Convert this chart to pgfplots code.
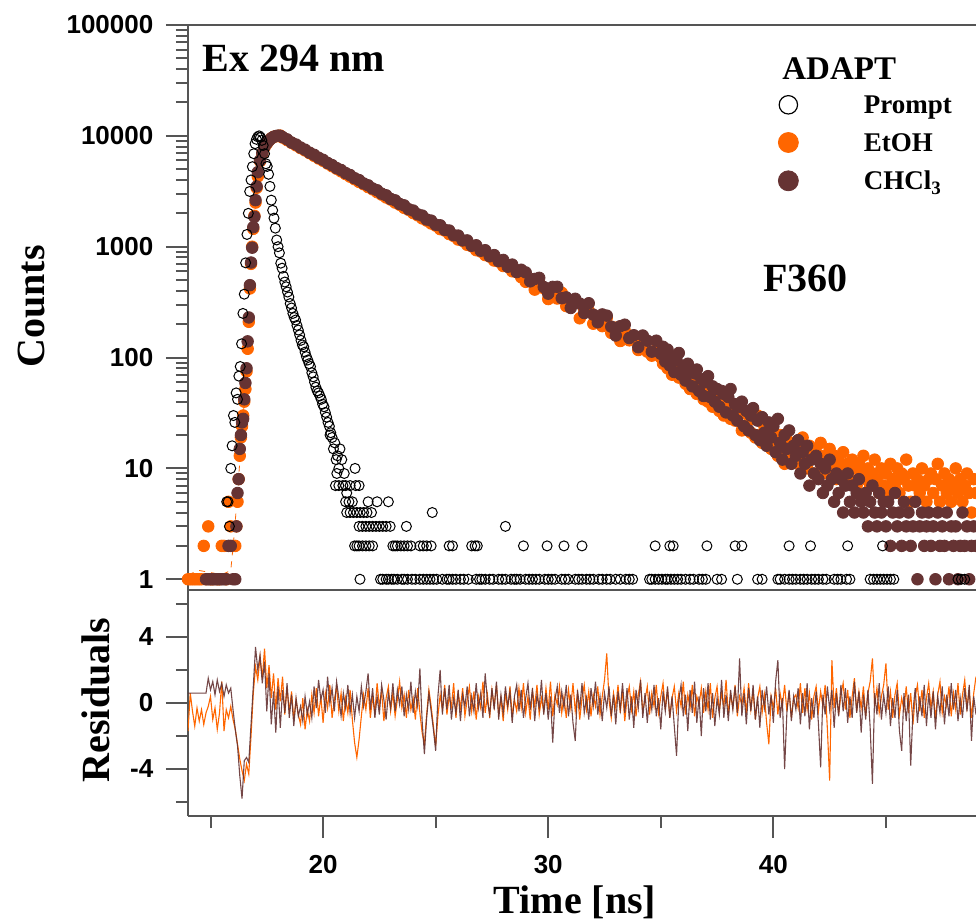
\documentclass[border=0pt]{standalone}
\usepackage{pgfplots}
\pgfplotsset{compat=1.18}
\usepackage{pgfplotstable}
\usepackage{fontspec}
\setmainfont{Liberation Serif}
\newfontfamily\arialf{Liberation Sans}
\definecolor{eorange}{RGB}{255,102,0}
\definecolor{cbrown}{RGB}{102,51,51}
\definecolor{axgray}{RGB}{85,85,85}
\pgfplotsset{every non boxed y axis/.append style={y axis line style=-},
  every non boxed x axis/.append style={x axis line style=-},
  filter discard warning=false}

\pgfplotstableread{
x e c
14.0 1 nan
14.1 1 nan
14.2 1 nan
14.3 1 nan
14.4 1 nan
14.5 1 nan
14.6 1 nan
14.7 2 nan
14.8 1 1
14.9 3 1
15.0 1 1
15.1 1 1
15.2 nan 1
15.3 1 1
15.4 1 1
15.5 2 1
15.6 2 1
15.7 1 1
15.8 5 2
15.9 3 2
16.0 2 1
16.1 2 1
16.15 3 3
16.20 5 6
16.25 8 8
16.30 13 15
16.35 19 20
16.40 24 26
16.45 30 28
16.50 40 42
16.55 52 59
16.60 75 80
16.65 120 140
16.70 210 230
16.75 420 450
16.80 700 720
16.85 1000 980
16.90 1450 1500
16.95 1900 1860
17.00 2500 2630
17.05 3400 3500
17.10 4300 4700
17.2 5900 6000
17.3 6900 7000
17.4 7900 8000
17.5 8500 8600
17.6 9100 9100
17.7 9500 9500
17.8 9800 9800
17.9 9900 9950
18.0 10000 10050
18.1 10050 10000
18.2 9650 9750
18.4 9150 9300
18.6 8650 8700
18.8 8200 8350
19.0 7750 7850
19.2 7380 7500
19.4 6980 7050
19.6 6600 6750
19.8 6250 6350
20.0 5950 6080
20.2 5620 5700
20.4 5320 5450
20.6 5050 5120
20.8 4780 4920
21.0 4520 4620
21.2 4280 4430
21.4 4060 4150
21.6 3840 3990
21.8 3660 3720
22.0 3450 3580
22.2 3290 3350
22.4 3100 3230
22.6 2950 3010
22.8 2780 2910
23.0 2660 2700
23.2 2500 2620
23.4 2390 2430
23.6 2240 2360
23.8 2150 2180
24.0 2010 2120
24.2 1920 1960
24.4 1800 1910
24.6 1720 1760
24.8 1620 1720
25.0 1550 1580
25.2 1440 1560
25.4 1400 1420
25.6 1300 1400
25.8 1250 1270
26.0 1160 1260
26.2 1130 1140
26.4 1040 1140
26.6 1010 1020
26.8 930 1030
27.0 905 920
27.2 840 930
27.4 815 820
27.6 750 840
27.8 735 740
28.0 670 760
28.2 660 660
28.4 600 690
28.6 590 590
28.8 530 620
29.0 482 586
29.2 505 487
29.4 410 512
29.6 472 524
29.8 422 433
30.0 337 377
30.2 409 434
30.4 341 435
30.6 384 343
30.8 291 349
31.0 298 280
31.2 318 339
31.4 226 307
31.6 268 252
31.8 264 309
32.0 202 244
32.2 224 208
32.4 192 245
32.6 228 239
32.8 167 190
33.0 186 158
33.2 141 192
33.4 174 198
33.6 143 150
33.8 152 159
34.0 117 124
34.2 145 158
34.4 113 142
34.6 104 113
34.8 118 142
35.0 100 108
35.1 88 125
35.2 110 92
35.3 80 118
35.4 97 85
35.5 70 102
35.6 92 74
35.7 84 95
35.8 66 110
35.9 80 70
36.0 76 84
36.1 58 62
36.2 74 88
36.3 52 75
36.4 70 55
36.5 64 72
36.6 47 78
36.7 62 50
36.8 58 64
36.9 42 45
37.0 55 60
37.1 40 68
37.2 52 44
37.3 36 55
37.4 48 40
37.5 44 52
37.6 33 36
37.7 42 50
37.8 30 47
37.9 40 32
38.0 37 44
38.1 28 52
38.2 38 30
38.3 27 38
38.4 35 27
38.5 31 36
38.6 22 40
38.7 33 24
38.8 24 33
38.9 30 22
39.0 21 30
39.1 28 35
39.2 19 20
39.3 30 27
39.4 20 18
39.5 17 29
39.6 24 21
39.7 18 16
39.8 23 26
39.9 15 19
40.0 21 24
40.1 16 14
40.2 13 28
40.3 20 17
40.4 15 12
40.5 11 20
40.6 18 15
40.7 14 22
40.8 17 11
40.9 12 16
41.0 16 13
41.1 11 18
41.2 15 9
41.3 19 14
41.4 12 11
41.5 10 16
41.6 16 7
41.7 13 12
41.8 9 9
41.9 14 13
42.0 12 8
42.1 17 11
42.2 10 6
42.3 13 10
42.4 9 7
42.5 15 12
42.6 11 8
42.7 13 5
42.8 8 9
42.9 12 6
43.0 10 8
43.1 14 4
43.2 9 7
43.3 11 9
43.4 8 5
43.5 12 7
43.6 10 4
43.7 7 6
43.8 11 8
43.9 9 5
44.0 13 4
44.1 8 6
44.2 10 3
44.3 7 5
44.4 9 7
44.5 12 4
44.6 8 3
44.7 6 6
44.8 10 4
44.9 7 5
45.0 9 3
45.1 6 5
45.2 11 2
45.3 8 4
45.4 7 6
45.5 10 3
45.6 6 4
45.7 9 2
45.8 8 5
45.9 12 3
46.0 7 4
46.1 5 2
46.2 9 3
46.3 7 5
46.4 8 1
46.5 6 3
46.6 10 4
46.7 7 2
46.8 5 3
46.9 8 4
47.0 9 2
47.1 6 3
47.2 8 1
47.3 11 4
47.4 5 2
47.5 7 3
47.6 9 2
47.7 6 4
47.8 8 1
47.9 5 3
48.0 7 2
48.1 10 3
48.2 6 1
48.3 8 2
48.4 5 4
48.5 7 2
48.6 9 3
48.7 6 1
48.8 4 2
48.9 8 3
49.0 6 2
}\decay

\pgfplotstableread{
x y
15.72 5
15.78 5
15.84 3
15.90 10
15.96 16
16.02 30
16.08 26
16.14 48
16.20 42
16.26 68
16.32 83
16.38 133
16.44 250
16.50 373
16.56 715
16.62 1290
16.68 2000
16.74 3150
16.80 4000
16.86 5270
16.92 6900
16.98 8500
17.04 9300
17.10 9800
17.16 10000
17.22 9700
17.28 9100
17.34 8200
17.40 6900
17.46 5600
17.52 5300
17.58 4500
17.64 3500
17.70 2630
17.76 2130
17.82 1810
17.88 1470
17.94 1150
18.00 1000
18.06 880
18.12 710
18.18 640
18.24 540
18.30 480
18.36 435
18.42 390
18.48 352
18.54 307
18.60 280
18.66 250
18.72 230
18.78 218
18.84 195
18.90 177
18.96 160
19.02 143
19.08 130
19.14 125
19.20 112
19.26 102
19.32 95
19.38 88
19.44 83
19.50 73
19.56 67
19.62 60
19.68 54
19.74 50
19.80 48
19.86 45
19.92 42
19.98 38
20.04 36
20.10 32
20.16 29
20.22 26
20.28 24
20.31 20
20.34 21
20.40 19
20.46 15
20.52 17
20.58 12
20.61 9
20.64 13
20.70 10
20.75 15
20.83 12
20.88 7
20.94 9
21.42 10
20.55 7
20.70 7
21.00 7
21.20 7
21.45 7
21.60 7
21.05 6
21.00 5
21.15 5
21.30 5
22.00 5
22.40 5
22.90 5
21.05 4
21.20 4
21.35 4
21.50 4
21.65 4
21.80 4
21.95 4
22.15 4
24.85 4
21.60 3
21.75 3
21.90 3
22.05 3
22.20 3
22.35 3
22.50 3
22.65 3
22.80 3
22.98 3
23.70 3
28.10 3
21.40 2
21.50 2
21.60 2
21.75 2
21.90 2
22.05 2
22.20 2
23.10 2
23.20 2
23.30 2
23.45 2
23.60 2
23.75 2
23.90 2
24.30 2
24.45 2
24.60 2
24.80 2
25.60 2
25.75 2
26.60 2
26.75 2
26.85 2
28.90 2
29.95 2
30.70 2
31.50 2
34.75 2
35.40 2
35.55 2
37.05 2
38.30 2
38.60 2
40.70 2
41.65 2
43.30 2
44.85 2
21.64 1
22.55 1
22.65 1
22.80 1
22.90 1
23.05 1
23.15 1
23.30 1
23.50 1
23.60 1
23.75 1
23.95 1
24.10 1
24.30 1
24.45 1
24.60 1
24.75 1
24.90 1
25.05 1
25.30 1
25.50 1
25.60 1
25.75 1
25.90 1
26.10 1
26.25 1
26.45 1
26.80 1
26.95 1
27.05 1
27.20 1
27.40 1
27.55 1
27.80 1
27.95 1
28.10 1
28.35 1
28.50 1
28.60 1
28.75 1
29.00 1
29.15 1
29.30 1
29.45 1
29.60 1
29.85 1
30.00 1
30.15 1
30.30 1
30.60 1
30.75 1
30.90 1
31.20 1
31.35 1
31.50 1
31.70 1
31.85 1
32.00 1
32.25 1
32.40 1
32.60 1
32.75 1
33.00 1
33.20 1
33.45 1
33.60 1
33.75 1
34.50 1
34.60 1
34.75 1
34.90 1
35.05 1
35.20 1
35.30 1
35.45 1
35.60 1
35.75 1
35.90 1
36.10 1
36.30 1
36.45 1
36.70 1
36.85 1
37.00 1
37.50 1
37.70 1
38.40 1
39.30 1
39.50 1
40.20 1
40.30 1
40.50 1
40.70 1
40.85 1
41.00 1
41.20 1
41.35 1
41.50 1
41.70 1
41.85 1
42.00 1
42.20 1
42.35 1
42.70 1
42.85 1
43.00 1
43.25 1
43.40 1
44.30 1
44.45 1
44.60 1
44.75 1
44.90 1
45.05 1
45.20 1
45.35 1
48.20 1
48.35 1
48.50 1
}\prompt

\pgfplotstableread{
x e c
14.0 -1.7 0.6
14.1 0.6 0.6
14.2 -0.5 0.6
14.3 -1.4 0.6
14.4 -0.3 0.6
14.5 -1.1 0.6
14.6 -0.4 0.6
14.7 -1.3 0.6
14.8 -0.6 0.6
14.9 -0.2 1.5
15.0 0.4 0.8
15.1 -1.0 1.3
15.2 -0.3 0.5
15.3 -1.6 1.4
15.4 -0.6 0.7
15.5 1.3 1.2
15.6 -1.7 0.4
15.7 -0.4 1.1
15.8 -0.9 0.6
15.9 -0.2 0.9
16.0 -1.0 -0.4
16.1 -1.6 -1.6
16.2 -2.5 -2.6
16.3 -3.4 -4.4
16.4 -4.1 -5.8
16.5 -4.7 -3.5
16.6 -3.7 -3.3
16.7 -4.3 -3.6
16.8 -2.0 -1.3
16.9 0.6 1.0
17.0 2.2 3.4
17.1 1.4 2.0
17.2 2.8 2.9
17.3 1.5 1.2
17.4 3.3 2.5
17.5 0.9 -0.5
17.6 2.3 1.8
17.7 0.3 -1.3
17.8 1.8 0.7
17.9 -0.4 -1.8
18.0 1.5 1.0
18.1 0.1 -1.5
18.2 1.6 0.8
18.3 -0.7 -0.6
18.4 0.9 1.2
18.5 -0.5 -0.9
18.6 0.7 0.5
18.7 -1.0 -1.4
18.8 0.2 0.3
18.9 -0.7 -0.8
19.0 -1.3 -0.2
19.1 0.3 -1.1
19.2 -1.6 0.4
19.3 -0.4 -0.7
19.4 -1.1 0.1
19.5 0.5 -0.9
19.6 -0.6 1.0
19.7 0.9 -0.3
19.8 -0.8 1.4
19.9 0.4 0.2
20.0 -1.2 0.8
20.1 0.6 -0.6
20.2 -0.3 1.6
20.3 1.1 0.0
20.4 -0.9 0.9
20.5 0.2 -0.5
20.6 1.0 1.3
20.7 -0.5 0.3
20.8 0.6 -0.8
20.9 -1.1 0.6
21.0 0.3 -0.3
21.1 -0.6 1.1
21.2 0.8 -0.6
21.3 -1.0 0.5
21.4 -2.4 -0.9
21.5 -3.3 0.4
21.6 -2.2 -0.5
21.7 -0.8 1.0
21.8 0.5 -0.2
21.9 -0.4 0.7
22.0 0.9 1.8
22.1 -0.9 -0.4
22.2 0.4 0.9
22.3 -0.6 -0.9
22.4 1.2 0.4
22.5 -0.2 -0.7
22.6 0.7 1.1
22.7 -1.1 0.2
22.8 0.3 -1.0
22.9 1.0 0.6
23.0 -0.5 -0.3
23.1 0.6 1.2
23.2 -0.8 -0.5
23.3 0.2 0.8
23.4 1.3 -0.1
23.5 -0.3 1.0
23.6 0.5 -0.8
23.7 -0.9 0.5
23.8 0.8 -0.4
23.9 -0.4 1.3
24.0 0.3 -0.6
24.1 -1.0 0.7
24.2 0.9 -0.2
24.3 -0.6 2.1
24.4 -1.8 -1.1
24.5 -2.5 -3.1
24.6 -0.7 -0.9
24.7 0.8 0.6
24.8 -0.2 -0.5
24.9 -1.4 -1.6
25.0 -2.6 -2.9
25.1 -0.8 0.4
25.2 0.5 2.0
25.3 -0.4 -0.7
25.4 1.1 0.9
25.5 -0.7 -0.4
25.6 0.4 1.1
25.7 -0.2 -1.0
25.8 1.2 0.3
25.9 -0.9 -0.6
26.0 0.6 0.8
26.1 -0.3 -1.1
26.2 0.9 0.5
26.3 -0.8 -0.2
26.4 0.2 1.0
26.5 1.0 -0.8
26.6 -0.5 0.4
26.7 0.7 -0.5
26.8 -1.0 1.2
26.9 0.4 -0.3
27.0 -0.3 0.6
27.1 1.3 -0.9
27.2 -0.6 1.8
27.3 0.5 0.1
27.4 -0.9 -0.7
27.5 0.8 0.9
27.6 -0.2 -0.4
27.7 1.1 1.3
27.8 -0.7 -1.0
27.9 0.3 0.5
28.0 -1.1 -0.6
28.1 0.6 1.0
28.2 -0.4 -0.2
28.3 1.0 0.7
28.4 -0.8 -1.2
28.5 0.2 0.4
28.6 -0.5 1.1
28.7 0.9 -0.5
28.8 -0.3 0.8
28.9 1.2 -0.9
29.0 -0.6 0.3
29.1 0.4 1.2
29.2 -1.0 -0.4
29.3 0.7 0.9
29.4 -0.2 -1.1
29.5 1.1 0.5
29.6 -0.7 -0.3
29.7 0.3 1.4
29.8 -0.5 -0.7
29.9 0.9 0.6
30.0 -0.4 -1.0
30.1 1.3 0.4
30.2 -0.8 -2.4
30.3 0.5 0.2
30.4 -0.1 1.0
30.5 1.0 -0.6
30.6 -0.6 0.7
30.7 0.4 -0.3
30.8 -0.9 1.1
30.9 0.8 -0.8
31.0 -0.3 0.5
31.1 1.2 -1.2
31.2 -0.5 -2.3
31.3 0.6 0.8
31.4 -1.0 -0.4
31.5 0.3 1.2
31.6 1.1 -0.6
31.7 -0.4 0.3
31.8 0.7 -1.0
31.9 -0.8 0.9
32.0 0.5 -0.2
32.1 -0.2 1.3
32.2 1.0 -0.7
32.3 -0.7 0.4
32.4 0.4 -1.1
32.5 1.4 0.6
32.6 3.0 -0.3
32.7 0.2 1.0
32.8 -0.9 -0.8
32.9 0.6 0.5
33.0 -0.3 -1.3
33.1 1.1 0.7
33.2 -0.6 -0.4
33.3 0.8 1.2
33.4 -1.1 -0.6
33.5 0.3 0.9
33.6 1.0 -1.0
33.7 -0.4 0.4
33.8 0.7 -1.5
33.9 -0.8 0.8
34.0 0.5 -0.3
34.1 1.3 1.4
34.2 -0.5 -0.9
34.3 0.2 0.6
34.4 1.0 -1.2
34.5 -0.7 0.5
34.6 0.6 -0.4
34.7 -0.2 1.1
34.8 1.1 -0.8
34.9 -0.6 0.3
35.0 0.4 -1.6
35.1 1.2 0.7
35.2 -0.4 -0.5
35.3 0.8 1.0
35.4 -0.9 -0.9
35.5 0.3 0.4
35.6 1.0 -1.4
35.7 -0.5 -3.2
35.8 0.6 0.2
35.9 -0.2 1.1
36.0 1.3 -0.8
36.1 -0.7 0.5
36.2 0.5 -1.7
36.3 -0.3 0.8
36.4 1.1 -0.6
36.5 -0.8 1.3
36.6 0.4 -1.2
36.7 -0.1 0.4
36.8 0.9 -2.0
36.9 -0.6 0.9
37.0 0.7 -0.5
37.1 -0.4 1.2
37.2 1.2 -1.0
37.3 -0.9 0.6
37.4 0.3 -1.4
37.5 1.0 0.3
37.6 -0.5 -0.7
37.7 0.6 1.4
37.8 -0.2 -0.9
37.9 1.4 0.5
38.0 -0.7 -1.1
38.1 0.5 0.8
38.2 -0.3 -0.4
38.3 1.1 1.0
38.4 -0.8 -0.6
38.5 0.4 2.7
38.6 -0.1 -0.8
38.7 0.9 0.6
38.8 -0.6 -1.3
38.9 1.2 0.9
39.0 -0.4 -0.5
39.1 0.7 1.1
39.2 -1.0 -1.0
39.3 0.3 0.4
39.4 1.0 -1.5
39.5 -0.6 0.8
39.6 0.5 -0.3
39.7 -1.2 1.0
39.8 -2.5 -0.7
39.9 0.4 0.5
40.0 -0.3 -1.2
40.1 0.9 1.3
40.2 -0.7 2.6
40.3 0.6 -0.9
40.4 -0.2 0.3
40.5 1.1 -4.0
40.6 -0.5 -0.6
40.7 0.7 0.8
40.8 -0.9 -1.1
40.9 0.3 0.4
41.0 0.5 -0.4
41.1 -0.3 0.9
41.2 1.2 -1.3
41.3 -0.6 0.6
41.4 0.9 -0.8
41.5 -0.4 1.2
41.6 0.6 -1.6
41.7 -1.0 0.3
41.8 0.4 -0.9
41.9 1.0 0.7
42.0 -0.5 -1.2
42.1 0.7 -3.9
42.2 -0.2 0.5
42.3 1.1 -0.7
42.4 -1.6 1.0
42.5 -4.7 -0.4
42.6 2.6 0.8
42.7 -0.3 -1.5
42.8 0.9 0.6
42.9 -0.7 -0.8
43.0 0.5 1.1
43.1 1.2 -0.5
43.2 -0.4 0.9
43.3 0.8 -1.2
43.4 -0.9 0.4
43.5 0.4 -0.9
43.6 1.5 1.3
43.7 -0.5 -0.6
43.8 0.7 0.7
43.9 -0.3 -1.8
44.0 1.0 0.5
44.1 -0.8 -1.0
44.2 0.6 0.8
44.3 1.3 -1.5
44.4 2.7 -4.9
44.5 -0.2 0.6
44.6 0.9 -0.7
44.7 -0.6 1.2
44.8 0.4 -1.0
44.9 1.1 0.5
45.0 2.4 -0.6
45.1 -0.4 1.0
45.2 0.7 -1.4
45.3 -0.9 0.3
45.4 0.5 -0.9
45.5 1.2 0.8
45.6 -0.7 -1.7
45.7 0.3 -2.9
45.8 -0.4 0.6
45.9 1.0 -1.1
46.0 -0.6 0.5
46.1 0.6 -3.8
46.2 -1.3 -0.5
46.3 0.4 0.9
46.4 1.1 -1.2
46.5 -0.5 0.4
46.6 0.8 -0.8
46.7 -0.9 1.1
46.8 0.3 -1.4
46.9 1.2 0.6
47.0 -0.3 -0.9
47.1 0.7 0.7
47.2 -1.0 -1.6
47.3 0.5 0.4
47.4 1.3 -0.6
47.5 -0.6 1.0
47.6 0.4 -1.3
47.7 -0.2 0.5
47.8 1.0 -0.8
47.9 -0.8 1.2
48.0 0.6 -0.4
48.1 -0.4 0.8
48.2 1.2 -1.1
48.3 -0.7 0.3
48.4 0.5 -0.9
48.5 1.4 0.9
48.6 -0.3 -0.5
48.7 0.8 1.1
48.8 -0.9 -2.3
48.9 0.6 0.4
49.0 1.6 -0.7
}\resid

\begin{document}
\begin{tikzpicture}
\useasboundingbox (-94pt,-53.5pt) rectangle (394pt,408pt);
\pgfplotsset{myax/.style={scale only axis, width=394pt, xmin=14, xmax=49,
  axis x line=box, axis y line=left,
  axis line style={axgray, line width=1pt, -},
  tick align=outside, major tick length=11pt, minor tick length=6pt,
  every tick/.style={axgray, line width=1pt},
  tick label style={font=\arialf\bfseries\fontsize{13}{15}\selectfont},
  yticklabel style={xshift=-2.8pt},
  xticklabel style={yshift=-5pt},
  /pgf/number format/assume math mode=true,
  ytick pos=left, yticklabel pos=left}}
% residuals
\begin{axis}[myax, height=113pt, ymin=-6.85, ymax=6.85,
  ytick={-4,0,4}, yticklabels={-4,0,4}, minor ytick={-6,-2,2,6},
  xtick={20,30,40}, xticklabels={20,30,40}, minor xtick={15,25,35,45},
  xtick pos=bottom, xticklabel pos=bottom]
\addplot[eorange, line width=0.55pt] table[x=x,y=e]{\resid};
\addplot[cbrown, line width=0.55pt, opacity=0.9] table[x=x,y=c]{\resid};
\end{axis}
% decays
\begin{axis}[myax, at={(0,113pt)}, height=282.5pt, ymode=log, ymin=0.8, ymax=100000,
  xtick=\empty, ytick={1,10,100,1000,10000,100000},
  yticklabels={1,10,100,1000,10000,100000},
  legend cell align=left,
  legend style={draw=none, fill=none, at={(rel axis cs:0.7487,0.8761)}, anchor=north west,
    inner sep=0pt, outer sep=0pt, row sep=8.75pt, column sep=32.5pt,
    font=\bfseries\fontsize{13.5}{15}\selectfont,
    nodes={inner sep=0pt, text height=9pt, text depth=0pt}}]
\addplot[forget plot, only marks, mark=*, mark size=2.9pt, mark options={fill=eorange, draw=eorange}] table[x=x,y=e]{\decay};
\addplot[forget plot, only marks, mark=*, mark size=2.9pt, mark options={fill=cbrown, draw=cbrown}] table[x=x,y=c]{\decay};
\addplot[forget plot, eorange, dashed, line width=0.4pt] coordinates {(14.0,1.1) (14.5,1.2) (15.0,1.15) (15.5,1.1) (15.9,1.2) (16.05,2.5) (16.2,6) (16.4,22) (16.6,70)};
\addplot[forget plot, only marks, mark=o, mark size=2.5pt, mark options={draw=black, line width=0.5pt}] table[x=x,y=y]{\prompt};
\addlegendimage{legend image code/.code={\draw[black, line width=0.6pt] (0pt,0pt) circle (4.6pt);}}
\addlegendentry{Prompt}
\addlegendimage{legend image code/.code={\fill[eorange] (0pt,0pt) circle (5pt);}}
\addlegendentry{EtOH}
\addlegendimage{legend image code/.code={\fill[cbrown] (0pt,0pt) circle (5pt);}}
\addlegendentry{CHCl\textsubscript{3}}
\end{axis}
% texts
\node[anchor=base west, inner sep=0pt, font=\bfseries\fontsize{20}{22}\selectfont] at (7pt,372pt) {Ex 294 nm};
\node[anchor=base west, inner sep=0pt, font=\bfseries\fontsize{20}{22}\selectfont] at (287.5pt,262pt) {F360};
\node[anchor=base west, inner sep=0pt, font=\bfseries\fontsize{16.5}{18}\selectfont] at (297pt,368pt) {ADAPT};
\node[anchor=base, rotate=90, inner sep=0pt, font=\bfseries\fontsize{20}{22}\selectfont] at (-71.5pt,254.75pt) {Counts};
\node[anchor=base, rotate=90, inner sep=0pt, font=\bfseries\fontsize{20}{22}\selectfont] at (-39pt,58pt) {Residuals};
\node[anchor=base, inner sep=0pt, font=\bfseries\fontsize{20}{22}\selectfont] at (193.5pt,-48.5pt) {Time [ns]};
\end{tikzpicture}
\end{document}
